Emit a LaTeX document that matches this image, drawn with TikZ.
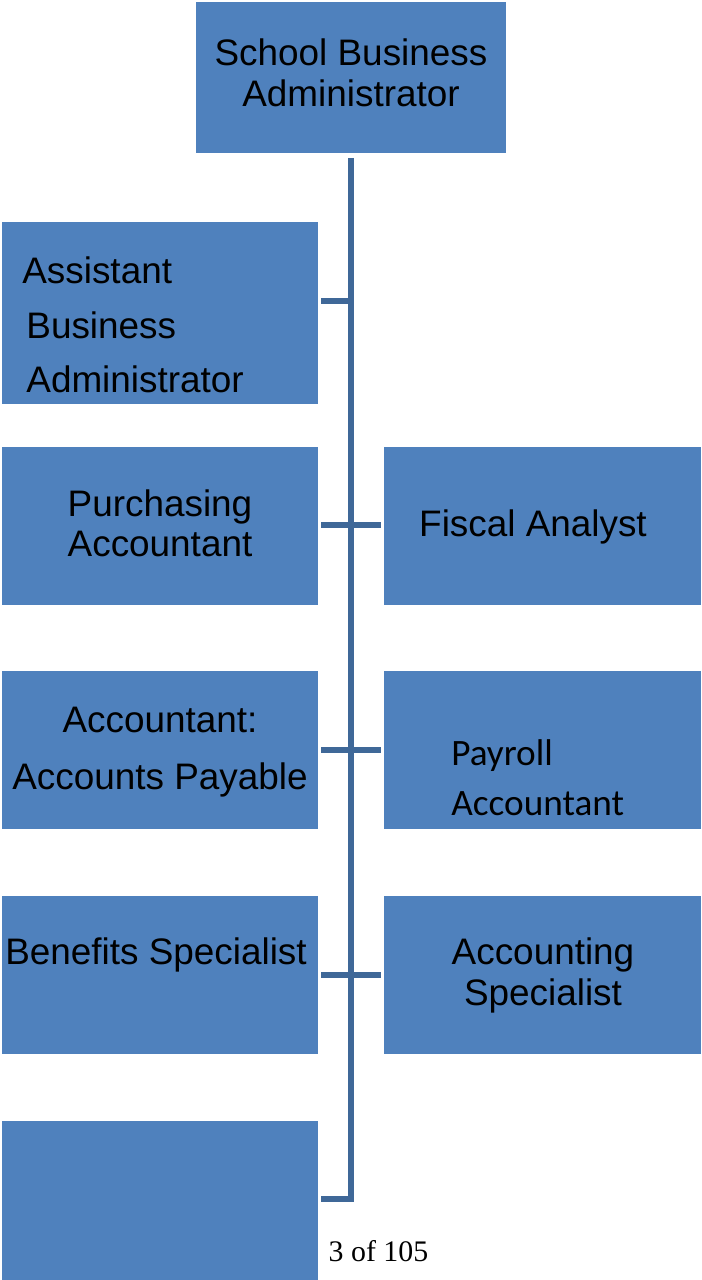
\documentclass[tikz,border=0pt]{standalone}
\usepackage{fontspec}
\setmainfont{Liberation Sans}
\newfontfamily\calibrifont{Carlito}
\newfontfamily\timesfont{Liberation Serif}

\definecolor{boxblue}{HTML}{4F81BD}
\definecolor{lineblue}{HTML}{3F6898}

\tikzset{
  box/.style={fill=boxblue, inner sep=0pt},
  lbl/.style={inner sep=0pt, align=center, font=\fontsize{21}{23}\selectfont},
  link/.style={draw=lineblue, line width=3pt, shorten >=0.06cm}
}

\begin{document}
\begin{tikzpicture}[x=0.02cm, y=-0.02cm]

\useasboundingbox (0,0) rectangle (702,1280);

% NODES %%%%%%%%%%%%%%%%%%%%%%%%%%%%%%%%%%%%%%%%%%%%%%%%%%%%%%%%%%%%%%%%%%

\node[box, minimum width=6.2cm, minimum height=3.02cm] (SBA) at (351,77.5) {};

\node[box, minimum width=6.32cm, minimum height=3.64cm] (ABA) at (160,313) {};
\node[box, minimum width=6.32cm, minimum height=3.16cm] (PA) at (160,526) {};
\node[box, minimum width=6.32cm, minimum height=3.16cm] (AAP) at (160,750) {};
\node[box, minimum width=6.32cm, minimum height=3.16cm] (BS) at (160,975) {};
\node[box, minimum width=6.32cm, minimum height=3.18cm] (EMPTY) at (160,1200.5) {};

\node[box, minimum width=6.34cm, minimum height=3.16cm] (FA) at (542.5,526) {};
\node[box, minimum width=6.34cm, minimum height=3.16cm] (PAY) at (542.5,750) {};
\node[box, minimum width=6.34cm, minimum height=3.16cm] (AS) at (542.5,975) {};

\coordinate (S0) at (351,158);
\coordinate (S1) at (351,301);
\coordinate (S2) at (351,525);
\coordinate (S3) at (351,750);
\coordinate (S4) at (351,975);
\coordinate (S5) at (351,1199);

% LINKS %%%%%%%%%%%%%%%%%%%%%%%%%%%%%%%%%%%%%%%%%%%%%%%%%%%%%%%%%%%%%%%%%%

\draw[link, line width=3.4pt] (S0) -- (S5) -- (S5 -| EMPTY.east);

\draw[link] (S1) -- (S1 -| ABA.east);
\draw[link] (S2) -- (S2 -| PA.east);
\draw[link] (S3) -- (S3 -| AAP.east);
\draw[link] (S4) -- (S4 -| BS.east);

\draw[link] (S2) -- (S2 -| FA.west);
\draw[link] (S3) -- (S3 -| PAY.west);
\draw[link] (S4) -- (S4 -| AS.west);

% ETIQUETTES

\node[lbl] (SBA-txt) at (351,73) {School Business\\Administrator};
\node[lbl, align=left, anchor=west, font=\fontsize{21}{31}\selectfont] (ABA-txt) at (22,325) {Assistant\\\hspace{2.3pt}Business\\\hspace{2.3pt}Administrator};
\node[lbl] (PA-txt) at (160,523.5) {Purchasing\\Accountant};
\node[lbl, font=\fontsize{21}{32.4}\selectfont] (AAP-txt) at (160,752) {Accountant:\\Accounts Payable};
\node[lbl] (BS-txt) at (156,954.5) {Benefits Specialist};

\node[lbl] (FA-txt) at (533,526.5) {Fiscal Analyst};
\node[lbl, align=left, anchor=west, font=\calibrifont\fontsize{21.2}{28.5}\selectfont] (PAY-txt) at (451,778) {Payroll\\Accountant};
\node[lbl] (AS-txt) at (543,975.5) {Accounting\\Specialist};

\node[inner sep=0pt, font=\timesfont\fontsize{17}{19}\selectfont] (page) at (378.5,1251.5) {3 of 105};

\end{tikzpicture}
\end{document}
